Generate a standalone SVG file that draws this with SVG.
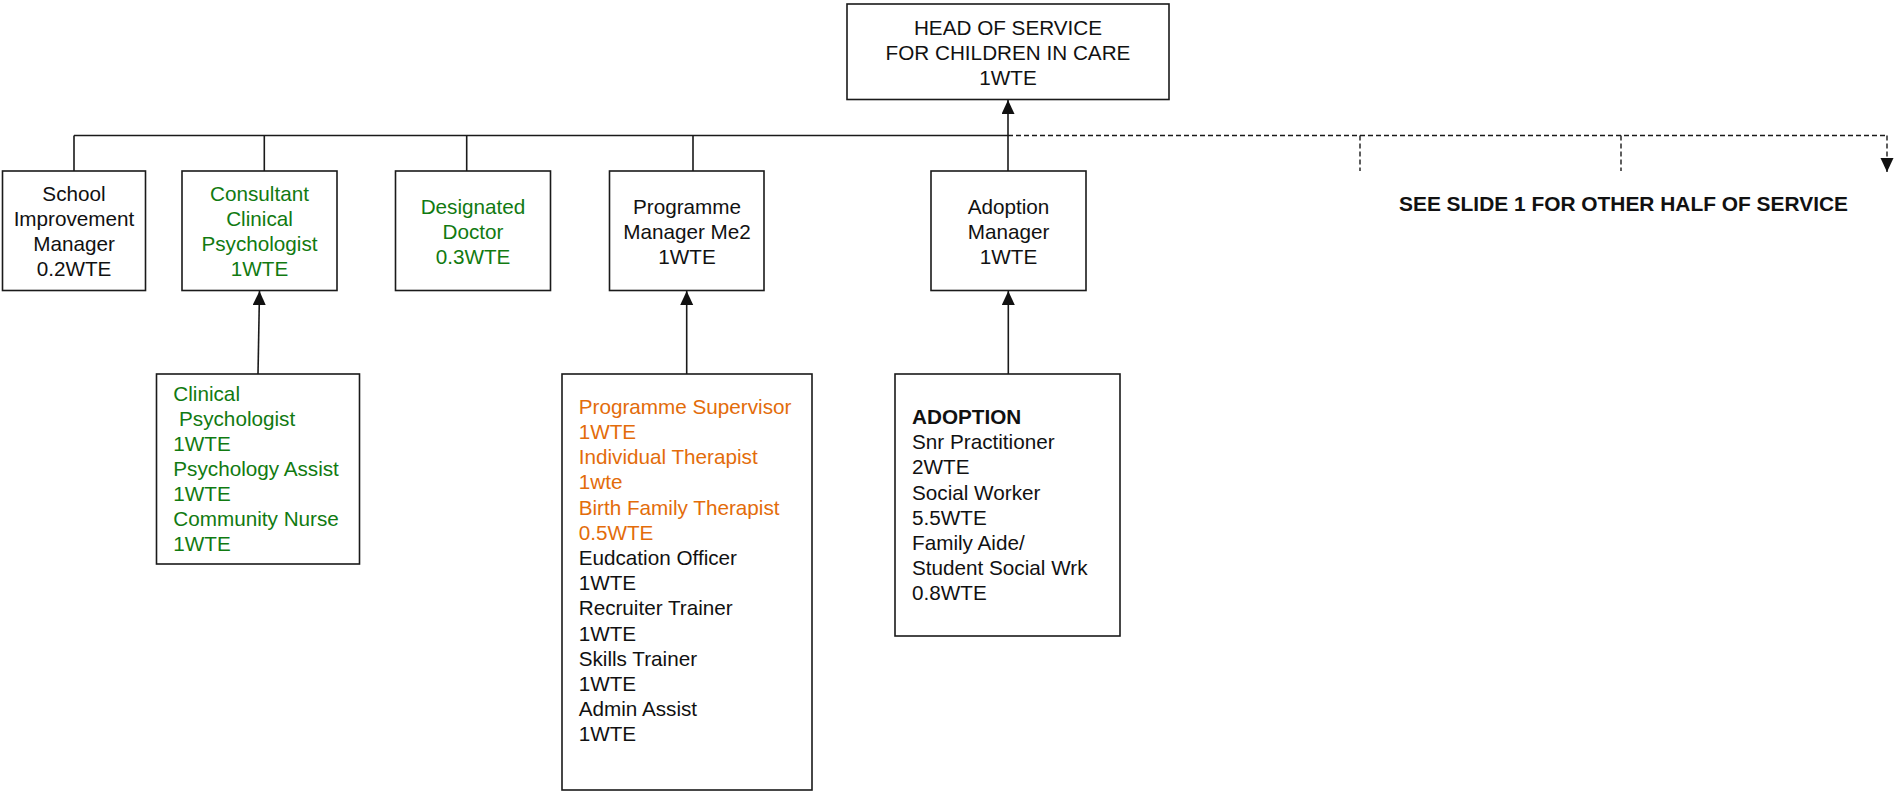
<svg xmlns="http://www.w3.org/2000/svg" width="1895" height="794" viewBox="0 0 1895 794">
<style>
text{font-family:"Liberation Sans",Arial,sans-serif;font-size:20.7px;fill:#111}
.c{text-anchor:middle}
.g{fill:#117a11}
.o{fill:#e36c0a}
.b{font-weight:bold}
rect{fill:#fff;stroke:#1a1a1a;stroke-width:1.6}
.ln{fill:none;stroke:#1a1a1a;stroke-width:1.6}
.ds{fill:none;stroke:#1a1a1a;stroke-width:1.4;stroke-dasharray:5 3}
</style>
<defs>
<marker id="ah" markerUnits="userSpaceOnUse" markerWidth="16" markerHeight="14" refX="14" refY="6.5" orient="auto" viewBox="0 0 16 14">
<path d="M0,0 L14,6.5 L0,13 z" fill="#111"/>
</marker>
</defs>
<rect x="0" y="0" width="1895" height="794" style="fill:#fff;stroke:none"/>
<g id="connectors">
<path class="ln" d="M74,135.5 H1008"/>
<path class="ln" d="M74,135.5 V171 M264.3,135.5 V171 M466.7,135.5 V171 M693,135.5 V171"/>
<path class="ln" d="M1008,171 V100" marker-end="url(#ah)"/>
<path class="ln" d="M258,374 L259.5,291" marker-end="url(#ah)"/>
<path class="ln" d="M686.7,374 V291" marker-end="url(#ah)"/>
<path class="ln" d="M1008.3,374 V291" marker-end="url(#ah)"/>
<path class="ds" d="M1008,135.5 H1887"/>
<path class="ds" d="M1360,135.5 V171 M1621,135.5 V171"/>
<path class="ds" d="M1887,135.5 V172" marker-end="url(#ah)"/>
</g>
<g id="head">
<rect x="847" y="4" width="322" height="95.5"/>
<text class="c" x="1008" y="35">HEAD OF SERVICE</text>
<text class="c" x="1008" y="60">FOR CHILDREN IN CARE</text>
<text class="c" x="1008" y="85">1WTE</text>
</g>
<g id="school">
<rect x="2.5" y="171" width="143" height="119.5"/>
<text class="c" x="74" y="200.7">School</text>
<text class="c" x="74" y="225.7">Improvement</text>
<text class="c" x="74" y="250.7">Manager</text>
<text class="c" x="74" y="275.7">0.2WTE</text>
</g>
<g id="consultant">
<rect x="182" y="171" width="155" height="119.5"/>
<text class="c g" x="259.5" y="200.7">Consultant</text>
<text class="c g" x="259.5" y="225.7">Clinical</text>
<text class="c g" x="259.5" y="250.7">Psychologist</text>
<text class="c g" x="259.5" y="275.7">1WTE</text>
</g>
<g id="designated">
<rect x="395.5" y="171" width="155" height="119.5"/>
<text class="c g" x="473" y="214">Designated</text>
<text class="c g" x="473" y="239">Doctor</text>
<text class="c g" x="473" y="264">0.3WTE</text>
</g>
<g id="programme-manager">
<rect x="609.5" y="171" width="154.5" height="119.5"/>
<text class="c" x="687" y="214">Programme</text>
<text class="c" x="687" y="239">Manager Me2</text>
<text class="c" x="687" y="264">1WTE</text>
</g>
<g id="adoption-manager">
<rect x="931" y="171" width="155" height="119.5"/>
<text class="c" x="1008.5" y="214">Adoption</text>
<text class="c" x="1008.5" y="239">Manager</text>
<text class="c" x="1008.5" y="264">1WTE</text>
</g>
<g id="see-slide">
<text class="b" x="1399" y="211" textLength="449" lengthAdjust="spacingAndGlyphs" style="font-size:19.5px">SEE SLIDE 1 FOR OTHER HALF OF SERVICE</text>
</g>
<g id="clinical-team">
<rect x="156.5" y="374" width="203" height="190"/>
<text class="g" x="173.3" y="400.7">Clinical</text>
<text class="g" x="173.3" y="425.7" xml:space="preserve"> Psychologist</text>
<text class="g" x="173.3" y="450.7">1WTE</text>
<text class="g" x="173.3" y="475.7">Psychology Assist</text>
<text class="g" x="173.3" y="500.7">1WTE</text>
<text class="g" x="173.3" y="525.7">Community Nurse</text>
<text class="g" x="173.3" y="550.7">1WTE</text>
</g>
<g id="programme-team">
<rect x="562" y="374" width="250" height="416"/>
<text class="o" x="578.7" y="413.7">Programme Supervisor</text>
<text class="o" x="578.7" y="438.9">1WTE</text>
<text class="o" x="578.7" y="464.1">Individual Therapist</text>
<text class="o" x="578.7" y="489.3">1wte</text>
<text class="o" x="578.7" y="514.5">Birth Family Therapist</text>
<text class="o" x="578.7" y="539.7">0.5WTE</text>
<text x="578.7" y="564.9">Eudcation Officer</text>
<text x="578.7" y="590.1">1WTE</text>
<text x="578.7" y="615.3">Recruiter Trainer</text>
<text x="578.7" y="640.5">1WTE</text>
<text x="578.7" y="665.7">Skills Trainer</text>
<text x="578.7" y="690.9">1WTE</text>
<text x="578.7" y="716.1">Admin Assist</text>
<text x="578.7" y="741.3">1WTE</text>
</g>
<g id="adoption-team">
<rect x="895" y="374" width="225" height="262"/>
<text class="b" x="912" y="424">ADOPTION</text>
<text x="912" y="449.2">Snr Practitioner</text>
<text x="912" y="474.4">2WTE</text>
<text x="912" y="499.6">Social Worker</text>
<text x="912" y="524.8">5.5WTE</text>
<text x="912" y="550">Family Aide/</text>
<text x="912" y="575.2">Student Social Wrk</text>
<text x="912" y="600.4">0.8WTE</text>
</g>
</svg>
